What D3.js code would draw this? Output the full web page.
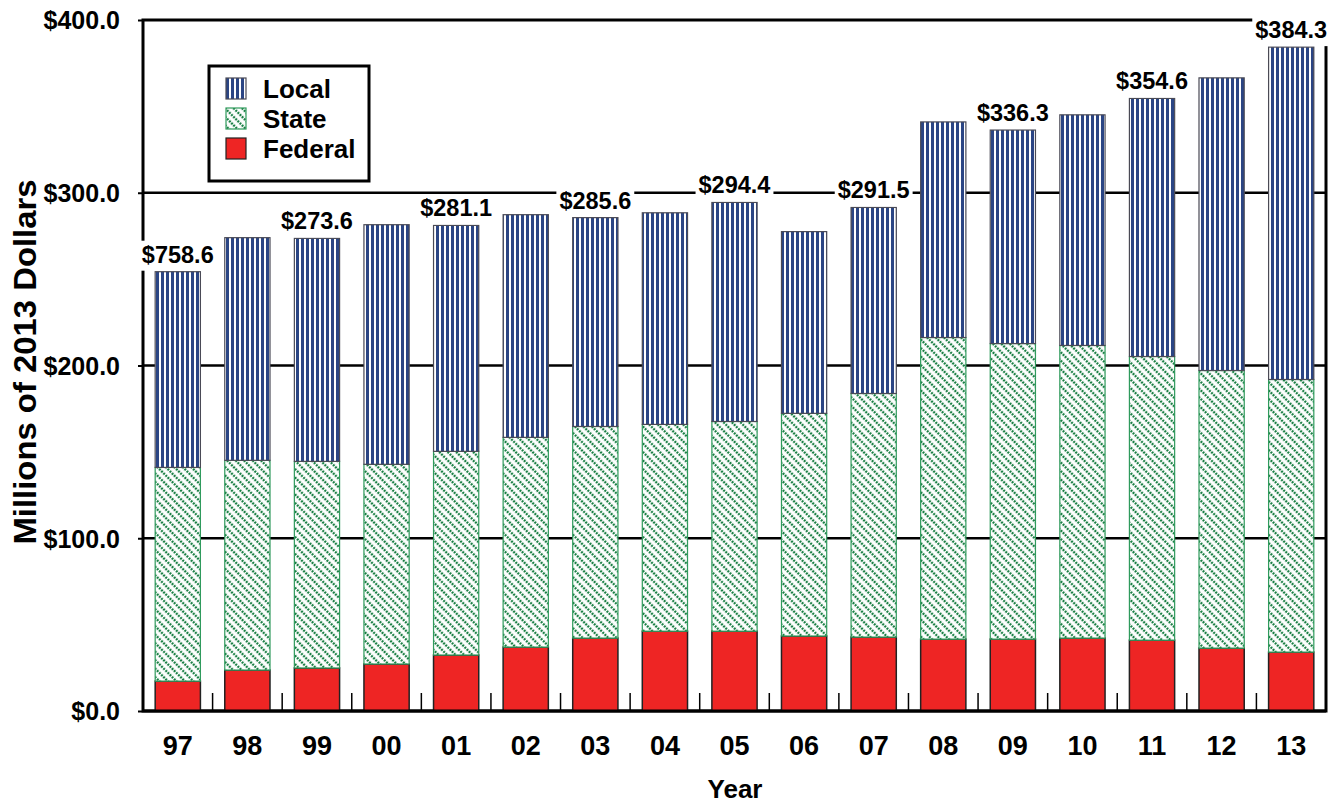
<!DOCTYPE html>
<html>
<head>
<meta charset="utf-8">
<script src="https://cdn.jsdelivr.net/npm/d3@7"></script>
<style>
  body { margin: 0; background: #fff; }
  text { font-family: "Liberation Sans", Arial, sans-serif; font-weight: bold; fill: #000; }
</style>
</head>
<body>
<script>
// chart data (millions of 2013 dollars)
const years = ['97','98','99','00','01','02','03','04','05','06','07','08','09','10','11','12','13'];
const federal = [17.3, 23.7, 24.9, 27.2, 32.4, 37.0, 42.2, 46.2, 46.2, 43.4, 42.8, 41.6, 41.6, 42.2, 41.0, 36.4, 34.1];
const state   = [123.7, 121.4, 119.6, 115.6, 117.9, 121.4, 122.5, 119.7, 121.4, 128.9, 141.0, 174.6, 171.1, 169.4, 164.2, 160.7, 157.8];
const local   = [113.3, 128.9, 129.1, 138.7, 130.8, 128.9, 120.9, 122.5, 126.8, 105.2, 107.7, 124.8, 123.6, 133.5, 149.4, 169.4, 192.4];
const labels  = ['$758.6', null, '$273.6', null, '$281.1', null, '$285.6', null, '$294.4', null, '$291.5', null, '$336.3', null, '$354.6', null, '$384.3'];
const yTicks = [0, 100, 200, 300, 400];
const seriesNames = ['Local', 'State', 'Federal'];

const W = 1339, H = 805;
const mLeft = 143, mRight = 1326, mTop = 20, mBottom = 711;

const svg = d3.select('body').append('svg')
  .attr('width', W)
  .attr('height', H);

const defs = svg.append('defs');

// vertical stripes for Local
const pLocal = defs.append('pattern')
  .attr('id', 'pLocal')
  .attr('patternUnits', 'userSpaceOnUse')
  .attr('width', 5).attr('height', 10);
pLocal.append('rect').attr('width', 5).attr('height', 10).attr('fill', '#fff');
pLocal.append('rect').attr('x', 1).attr('width', 3).attr('height', 10).attr('fill', '#2b4584');

// dashed diagonal hatching for State
const pState = defs.append('pattern')
  .attr('id', 'pState')
  .attr('patternUnits', 'userSpaceOnUse')
  .attr('width', 6).attr('height', 6)
  .attr('patternTransform', 'rotate(-45)');
pState.append('rect').attr('width', 6).attr('height', 6).attr('fill', '#fff');
pState.append('line')
  .attr('x1', 3).attr('x2', 3).attr('y1', 0).attr('y2', 6)
  .attr('stroke', '#1a7f44').attr('stroke-width', 2.4)
  .attr('stroke-dasharray', '2,1');

const fills = { Local: 'url(#pLocal)', State: 'url(#pState)', Federal: '#ee2524' };
const strokes = { Local: '#4a4a55', State: '#2f9a5c', Federal: '#222' };

const x = d3.scaleBand().domain(years).range([mLeft, mRight]).paddingInner(0.35).paddingOuter(0.175);
const y = d3.scaleLinear().domain([0, 400]).range([mBottom, mTop]);

// gridlines
svg.append('g')
  .selectAll('line')
  .data(yTicks.filter(d => d > 0 && d < 400))
  .join('line')
  .attr('x1', mLeft).attr('x2', mRight)
  .attr('y1', d => y(d)).attr('y2', d => y(d))
  .attr('stroke', '#000').attr('stroke-width', 2.5);

// y axis
const yAxis = svg.append('g')
  .attr('transform', `translate(${mLeft},0)`)
  .call(d3.axisLeft(y).tickValues(yTicks).tickSize(5).tickPadding(18).tickFormat(d => '$' + d3.format('.1f')(d)));
yAxis.select('.domain').remove();
yAxis.selectAll('line').attr('stroke', '#000').attr('stroke-width', 2);
yAxis.selectAll('text').style('font-size', '25px').attr('dy', '0.35em');

// frame
svg.append('rect')
  .attr('x', mLeft).attr('y', mTop)
  .attr('width', mRight - mLeft).attr('height', mBottom - mTop)
  .attr('fill', 'none').attr('stroke', '#000').attr('stroke-width', 3);

// x ticks between bars
const step = x.step();
svg.append('g')
  .selectAll('line')
  .data(years.slice(1))
  .join('line')
  .attr('x1', (d, i) => mLeft + step * (i + 1))
  .attr('x2', (d, i) => mLeft + step * (i + 1))
  .attr('y1', mBottom - 18).attr('y2', mBottom)
  .attr('stroke', '#000').attr('stroke-width', 1.5);

// stacked bars
const rows = years.map((yr, i) => ({ year: yr, Federal: federal[i], State: state[i], Local: local[i] }));
const stack = d3.stack().keys(['Federal', 'State', 'Local'])(rows);

svg.append('g')
  .selectAll('g')
  .data(stack)
  .join('g')
  .attr('fill', s => fills[s.key])
  .attr('stroke', s => strokes[s.key])
  .attr('stroke-width', s => s.key === 'Federal' ? 1.5 : 1.2)
  .selectAll('rect')
  .data(s => s)
  .join('rect')
  .attr('x', d => x(d.data.year))
  .attr('width', x.bandwidth())
  .attr('y', d => y(d[1]))
  .attr('height', d => y(d[0]) - y(d[1]));

// bottom axis line drawn over bar bottoms
svg.append('line')
  .attr('x1', mLeft).attr('x2', mRight)
  .attr('y1', mBottom).attr('y2', mBottom)
  .attr('stroke', '#000').attr('stroke-width', 3);

// x tick labels
svg.append('g')
  .selectAll('text')
  .data(years)
  .join('text')
  .attr('x', d => x(d) + x.bandwidth() / 2)
  .attr('y', 755)
  .attr('text-anchor', 'middle')
  .style('font-size', '27px')
  .text(d => d);

// value labels with white background
const totals = rows.map(r => r.Federal + r.State + r.Local);
const lab = svg.append('g')
  .selectAll('g')
  .data(years.map((yr, i) => ({ year: yr, total: totals[i], label: labels[i] })).filter(d => d.label))
  .join('g');
lab.append('text')
  .attr('x', d => x(d.year) + x.bandwidth() / 2)
  .attr('y', d => y(d.total) - 9)
  .attr('text-anchor', 'middle')
  .style('font-size', '23.5px')
  .text(d => d.label)
  .each(function () {
    const b = this.getBBox();
    d3.select(this.parentNode).insert('rect', 'text')
      .attr('x', b.x - 3).attr('y', b.y - 1)
      .attr('width', b.width + 6).attr('height', b.height + 4)
      .attr('fill', '#fff');
  });

// legend
const legend = svg.append('g');
legend.append('rect')
  .attr('x', 209).attr('y', 66)
  .attr('width', 160).attr('height', 115)
  .attr('fill', '#fff').attr('stroke', '#000').attr('stroke-width', 3);
const items = legend.selectAll('g.item')
  .data(seriesNames)
  .join('g')
  .attr('class', 'item')
  .attr('transform', (d, i) => `translate(0,${78 + i * 30})`);
items.append('rect')
  .attr('x', 226).attr('y', 0)
  .attr('width', 20).attr('height', 21)
  .attr('fill', d => fills[d])
  .attr('stroke', d => strokes[d])
  .attr('stroke-width', 1.2);
items.append('text')
  .attr('x', 263).attr('y', 20)
  .style('font-size', '26px')
  .text(d => d);

// axis titles
svg.append('text')
  .attr('x', 735).attr('y', 798)
  .attr('text-anchor', 'middle')
  .style('font-size', '26px')
  .text('Year');

svg.append('text')
  .attr('transform', 'translate(36,362) rotate(-90)')
  .attr('text-anchor', 'middle')
  .attr('textLength', 365)
  .attr('lengthAdjust', 'spacingAndGlyphs')
  .style('font-size', '31px')
  .text('Millions of 2013 Dollars');
</script>
</body>
</html>
